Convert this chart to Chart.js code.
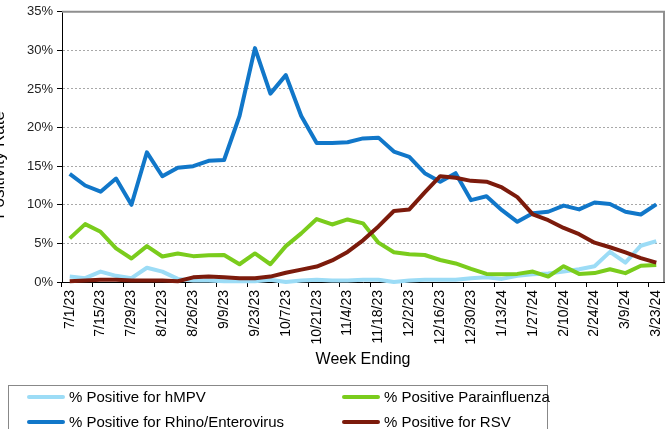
<!DOCTYPE html>
<html>
<head>
<meta charset="utf-8">
<script src="https://cdn.jsdelivr.net/npm/chart.js@4.4.1/dist/chart.umd.min.js"></script>
<style>
  html, body { margin: 0; padding: 0; background: #fff; }
  #wrap { position: relative; width: 670px; height: 429px; overflow: hidden; font-family: "Liberation Sans", Arial, sans-serif; }
  #chart { position: absolute; left: 0; top: 0; }
  #legend { position: absolute; left: 8px; top: 385px; width: 540px; height: 60px; border: 1px solid #888; box-sizing: border-box; }
  .item { position: absolute; font-size: 15px; line-height: 18px; white-space: nowrap; color: #000; }
  .sw { display: inline-block; width: 38px; height: 4px; border-radius: 2px; vertical-align: middle; margin-right: 4px; position: relative; top: -1px; }
</style>
</head>
<body>
<div id="wrap">
  <canvas id="chart" width="670" height="429"></canvas>
  <div id="legend"></div>
</div>
<script>
// week ending dates
var weeks = ['7/1/23', '7/8/23', '7/15/23', '7/22/23', '7/29/23', '8/5/23', '8/12/23', '8/19/23', '8/26/23',
  '9/2/23', '9/9/23', '9/16/23', '9/23/23', '9/30/23', '10/7/23', '10/14/23', '10/21/23', '10/28/23',
  '11/4/23', '11/11/23', '11/18/23', '11/25/23', '12/2/23', '12/9/23', '12/16/23', '12/23/23', '12/30/23',
  '1/6/24', '1/13/24', '1/20/24', '1/27/24', '2/3/24', '2/10/24', '2/17/24', '2/24/24', '3/2/24',
  '3/9/24', '3/16/24', '3/23/24'];

// positivity, percent
var hmpv = [0.7, 0.5, 1.35, 0.8, 0.5, 1.85, 1.35, 0.4, 0.2, 0.2, 0.1, 0.1, 0.1, 0.3, 0.0, 0.2, 0.3, 0.2,
  0.2, 0.3, 0.3, 0.0, 0.2, 0.3, 0.3, 0.3, 0.5, 0.6, 0.4, 0.8, 1.0, 1.1, 1.35, 1.65, 2.05, 3.9, 2.5, 4.7, 5.3];
var para = [5.65, 7.5, 6.5, 4.35, 3.05, 4.65, 3.3, 3.7, 3.35, 3.45, 3.5, 2.3, 3.7, 2.3, 4.65, 6.3, 8.15, 7.45,
  8.1, 7.6, 5.1, 3.85, 3.6, 3.5, 2.85, 2.4, 1.7, 1.05, 1.0, 1.05, 1.35, 0.7, 2.05, 1.05, 1.15, 1.65, 1.15, 2.1, 2.2];
var rhino = [14.0, 12.5, 11.7, 13.4, 10.0, 16.8, 13.7, 14.8, 15.0, 15.7, 15.8, 21.5, 30.3, 24.4, 26.8, 21.5, 18.0, 18.0,
  18.1, 18.6, 18.7, 16.9, 16.2, 14.1, 13.0, 14.1, 10.6, 11.1, 9.3, 7.8, 8.9, 9.1, 9.9, 9.4, 10.3, 10.1, 9.1, 8.75, 10.05];
var rsv = [0.1, 0.2, 0.3, 0.3, 0.2, 0.2, 0.2, 0.1, 0.6, 0.7, 0.6, 0.5, 0.5, 0.7, 1.2, 1.6, 2.0, 2.8,
  3.9, 5.4, 7.2, 9.2, 9.4, 11.6, 13.7, 13.5, 13.1, 13.0, 12.25, 11.0, 8.75, 8.0, 7.0, 6.2, 5.1, 4.5, 3.85, 3.1, 2.5];

var yTicks = [0, 5, 10, 15, 20, 25, 30, 35];

var seriesNames = ['% Positive for hMPV', '% Positive Parainfluenza', '% Positive for Rhino/Enterovirus', '% Positive for RSV'];
var seriesData = [hmpv, para, rhino, rsv];
var seriesColors = ['#9cdcf6', '#7acc1c', '#1177c9', '#7c1b0c'];

Chart.defaults.font.family = '"Liberation Sans", Arial, sans-serif';
Chart.defaults.color = '#000';

var datasets = seriesNames.map(function (name, i) {
  return {
    label: name,
    data: seriesData[i],
    borderColor: seriesColors[i],
    backgroundColor: seriesColors[i],
    borderWidth: 4,
    pointRadius: 0,
    tension: 0,
    fill: false,
    clip: 5,
    borderJoinStyle: 'round',
    order: seriesNames.length - i
  };
});

// gray frame on top and right, y title cut at the left edge
var framePlugin = {
  id: 'frame',
  beforeDatasetsDraw: function (chart) {
    var a = chart.chartArea, ctx = chart.ctx;
    ctx.save();
    ctx.strokeStyle = '#8f8f8f';
    ctx.lineWidth = 2;
    ctx.beginPath();
    ctx.moveTo(a.left, a.top);
    ctx.lineTo(a.right, a.top);
    ctx.lineTo(a.right, a.bottom);
    ctx.stroke();
    ctx.restore();
  },
  afterDraw: function (chart) {
    var ctx = chart.ctx;
    ctx.save();
    ctx.translate(4, 165);
    ctx.rotate(-Math.PI / 2);
    ctx.font = '17px "Liberation Sans", Arial, sans-serif';
    ctx.fillStyle = '#000';
    ctx.textAlign = 'center';
    ctx.textBaseline = 'alphabetic';
    ctx.fillText('Positivity Rate', 0, 0);
    ctx.restore();
  }
};

new Chart(document.getElementById('chart'), {
  type: 'line',
  data: { labels: weeks, datasets: datasets },
  plugins: [framePlugin],
  options: {
    responsive: false,
    animation: false,
    layout: { padding: { top: 11, right: 6, bottom: 60, left: 0 } },
    plugins: { legend: { display: false }, tooltip: { enabled: false }, title: { display: false } },
    scales: {
      x: {
        offset: true,
        grid: {
          drawOnChartArea: false,
          offset: true,
          tickLength: 5,
          tickColor: function (c) { return c.index % 2 === 0 ? '#000' : 'rgba(0,0,0,0)'; }
        },
        border: { color: '#000', width: 1 },
        ticks: {
          autoSkip: false,
          maxRotation: 90,
          minRotation: 90,
          padding: 3,
          font: { size: 14 },
          callback: function (v, i) { return i % 2 === 0 ? weeks[i] : ''; }
        },
        title: { display: true, text: 'Week Ending', font: { size: 16 }, padding: { top: 2, bottom: 0 } },
        afterFit: function (s) { s.height = 87; s.paddingLeft = 0; s.paddingRight = 0; }
      },
      y: {
        min: yTicks[0],
        max: yTicks[yTicks.length - 1],
        afterBuildTicks: function (s) { s.ticks = yTicks.map(function (v) { return { value: v }; }); },
        grid: {
          color: function (c) { return c.tick && c.tick.value === 0 ? 'rgba(0,0,0,0)' : '#a8a8a8'; },
          tickColor: '#000',
          tickLength: 5,
          tickBorderDash: [],
          lineWidth: 1
        },
        border: { color: '#000', width: 1, dash: [2, 2] },
        ticks: {
          padding: 4,
          font: { size: 13 },
          color: '#222',
          callback: function (v) { return v + '%'; }
        },
        afterFit: function (s) { s.width = 62; }
      }
    }
  }
});

// legend, two columns
var legend = document.getElementById('legend');
var colLeft = [18, 333];
var rowTop = [2, 27];
seriesNames.forEach(function (name, i) {
  var d = document.createElement('div');
  d.className = 'item';
  d.style.left = colLeft[i % 2] + 'px';
  d.style.top = rowTop[Math.floor(i / 2)] + 'px';
  d.innerHTML = '<span class="sw" style="background:' + seriesColors[i] + '"></span>' + name;
  legend.appendChild(d);
});
</script>
</body>
</html>
